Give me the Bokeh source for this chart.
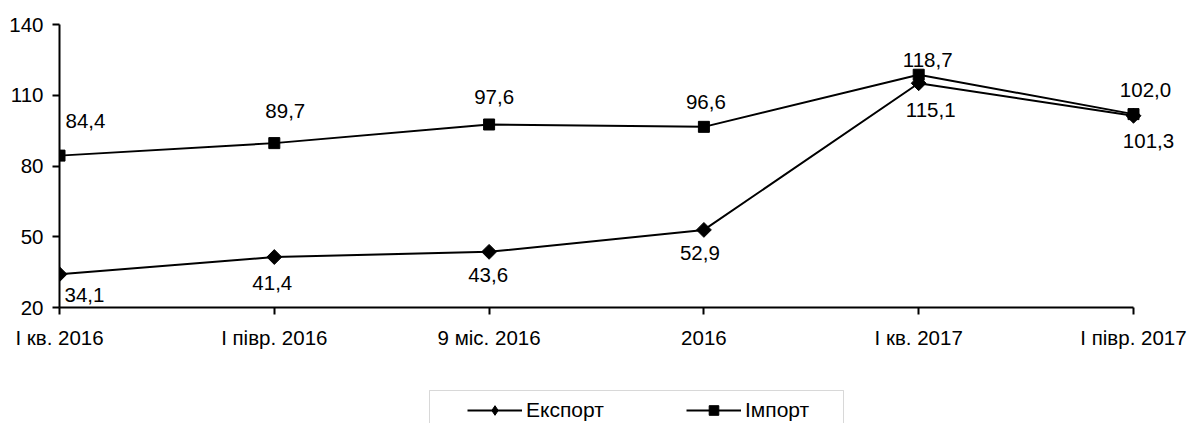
import numpy as np
from bokeh.plotting import figure
from bokeh.layouts import column
from bokeh.models import (Range1d, FixedTicker, Legend, LegendItem, LabelSet,
                          ColumnDataSource, BoxAnnotation)
from bokeh.core.properties import value
from bokeh.embed import file_html
from bokeh.resources import INLINE

# ---- data ----
categories = ["І кв. 2016", "І півр. 2016", "9 міс. 2016", "2016", "І кв. 2017", "І півр. 2017"]
export_vals = [34.1, 41.4, 43.6, 52.9, 115.1, 101.3]
import_vals = [84.4, 89.7, 97.6, 96.6, 118.7, 102.0]
y_ticks = [20, 50, 80, 110, 140]
series_names = ["Експорт", "Імпорт"]

# ---- label placement (style, screen px) ----
imp_dx = [26, 11, 5, 2, 9, 12]
imp_dy = [35, 32, 27, 25, 15, 24]
exp_dx = [25, -2, -1, -4, 12, 15]
exp_dy = [-21, -26, -23, -23, -27, -25]

FONT = "Liberation Sans"
FS = "20.5px"

W = 1190
H1 = 370
H2 = 53
FRAME_L, FRAME_T, FRAME_B, LAST_X = 59, 24, 307, 1133

xs = list(range(len(categories)))
fmt = lambda v: f"{v:.1f}".replace(".", ",")
px_per = (LAST_X - FRAME_L) / (len(categories) - 1)
x_end = (W - FRAME_L) / px_per

p = figure(width=W, height=H1, x_range=Range1d(0, x_end),
           y_range=Range1d(y_ticks[0], y_ticks[-1]),
           output_backend="svg", toolbar_location=None,
           min_border_left=FRAME_L, min_border_right=0, min_border_top=FRAME_T,
           min_border_bottom=H1 - FRAME_B)
p.outline_line_color = None
p.xgrid.grid_line_color = None
p.ygrid.grid_line_color = None

for ax in (p.xaxis[0], p.yaxis[0]):
    ax.axis_line_color = "black"
    ax.axis_line_width = 2
    ax.major_tick_line_color = "black"
    ax.major_tick_line_width = 2
    ax.major_tick_in = 0
    ax.major_tick_out = 7
    ax.minor_tick_line_color = None
    ax.major_label_text_font = FONT
    ax.major_label_text_font_size = FS
    ax.major_label_text_color = "black"

p.xaxis.ticker = FixedTicker(ticks=xs)
p.xaxis.bounds = (xs[0], xs[-1])
p.xaxis.major_label_overrides = {i: c for i, c in enumerate(categories)}
p.xaxis.major_label_standoff = 11
p.yaxis.ticker = FixedTicker(ticks=y_ticks)
p.yaxis.major_label_standoff = 9

exp_src = ColumnDataSource(dict(x=xs, y=export_vals, t=[fmt(v) for v in export_vals],
                                dx=exp_dx, dy=exp_dy))
imp_src = ColumnDataSource(dict(x=xs, y=import_vals, t=[fmt(v) for v in import_vals],
                                dx=imp_dx, dy=imp_dy))

imp_line = p.line("x", "y", source=imp_src, line_color="black", line_width=2)
imp_mark = p.scatter("x", "y", source=imp_src, marker="square", size=11,
                     fill_color="black", line_color="black")
exp_line = p.line("x", "y", source=exp_src, line_color="black", line_width=2)
exp_mark = p.scatter("x", "y", source=exp_src, marker="square", angle=np.pi / 4, size=10.5,
                     fill_color="black", line_color="black")

for src in (imp_src, exp_src):
    p.add_layout(LabelSet(x="x", y="y", text="t", source=src, x_offset="dx", y_offset="dy",
                          text_align="center", text_baseline="middle",
                          text_font=value(FONT), text_font_size=value(FS),
                          text_color="black"))

# ---- legend strip (x in page pixels, y in pixels from strip bottom) ----
q = figure(width=W, height=H2, x_range=Range1d(FRAME_L, W), y_range=Range1d(0, H2),
           output_backend="svg", toolbar_location=None,
           min_border_left=FRAME_L, min_border_right=0, min_border_top=0, min_border_bottom=0,
           x_axis_type=None, y_axis_type=None)
q.outline_line_color = None
q.xgrid.grid_line_color = None
q.ygrid.grid_line_color = None

l_exp_line = q.line([-50, -40], [-50, -50], line_color="black", line_width=2)
l_exp_mark = q.scatter([-50], [-50], marker="diamond", size=19,
                       fill_color="black", line_color="black")
l_imp_line = q.line([-50, -40], [-50, -50], line_color="black", line_width=2)
l_imp_mark = q.scatter([-50], [-50], marker="square", size=14,
                       fill_color="black", line_color="black")

legend = Legend(items=[LegendItem(label=series_names[0], renderers=[l_exp_line, l_exp_mark]),
                       LegendItem(label=series_names[1], renderers=[l_imp_line, l_imp_mark])],
                orientation="horizontal", location=(408, 1),
                glyph_width=55, glyph_height=24, label_height=24, label_standoff=4,
                label_width=100, spacing=60, padding=6, margin=0,
                border_line_color=None, background_fill_alpha=0,
                label_text_font=FONT, label_text_font_size="21px", label_text_color="black",
                label_text_baseline="middle")
q.add_layout(legend, "center")

q.add_layout(BoxAnnotation(left=429, right=843, top=H2 - 20, bottom=-10,
                           fill_color=None, line_color="#7f7f7f", line_width=1))

layout = column(p, q, spacing=0)
open("out.html", "w").write(file_html(layout, INLINE))
